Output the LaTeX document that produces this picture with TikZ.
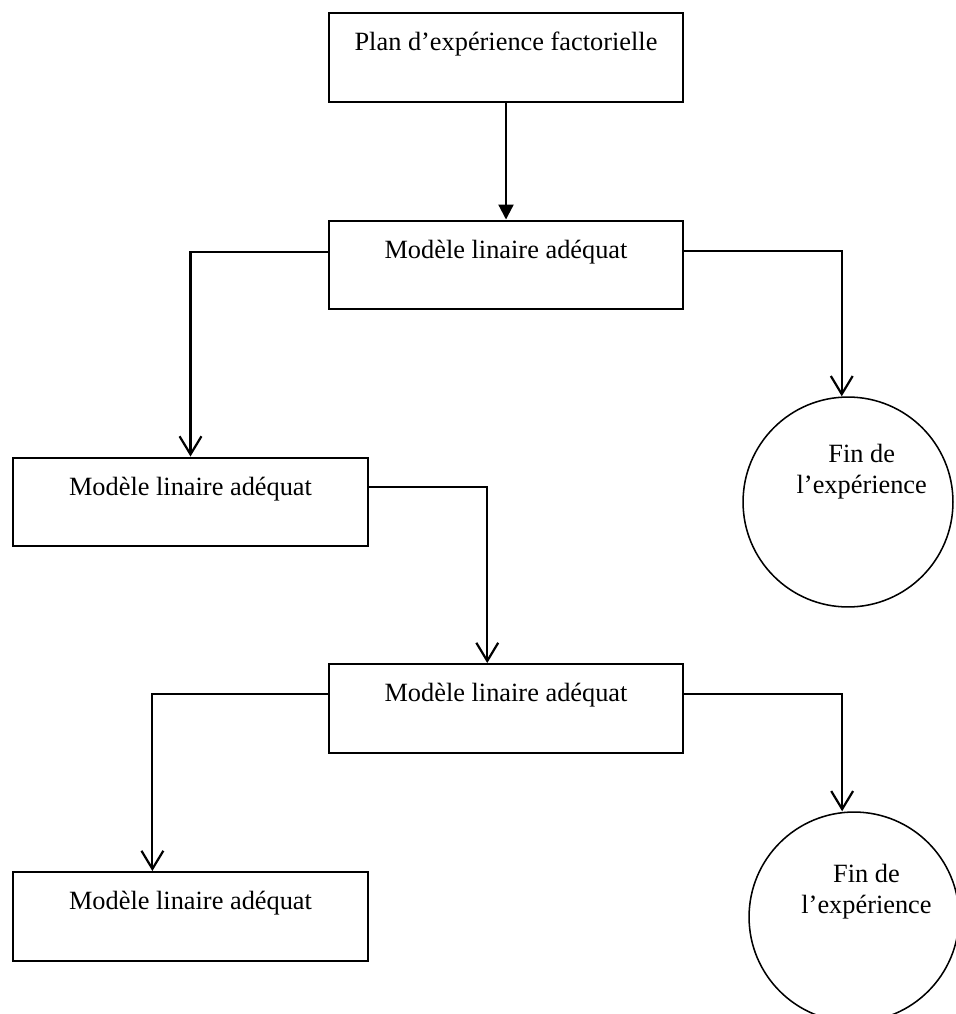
\documentclass[tikz,border=0pt]{standalone}
\usepackage{fontspec}
\setmainfont{Liberation Serif}
\usepackage{tikz}
\usetikzlibrary{calc}
\usetikzlibrary{arrows.meta}
\usetikzlibrary{shapes}
\usetikzlibrary{positioning}

\tikzset{
  boite/.style={rectangle, draw=black, line width=0.9pt, minimum width=5.68cm,
    inner xsep=0pt, inner ysep=0pt, text height=0.6cm, text depth=0.824cm,
    font=\fontsize{12}{14}\selectfont},
  fin/.style={circle, draw=black, line width=0.7pt, minimum size=3.36cm, inner sep=0pt},
  txt/.style={align=center, inner sep=0pt, font=\fontsize{12}{14}\selectfont},
  fleche/.style={line width=1pt, -{Straight Barb[length=0.29cm, width=0.35cm]}},
  plein/.style={line width=1pt, -{Triangle[length=0.24cm, width=0.24cm]}}
}

\begin{document}
\begin{tikzpicture}[x=0.016cm, y=-0.016cm]
\useasboundingbox (0, 0) rectangle (955, 1014);
\node [boite] (plan) at (506, 57.5) {Plan d’expérience factorielle};
\node [boite] (M1) at (506, 265) {Modèle linaire adéquat};
\node [boite] (M2) at (190.5, 502) {Modèle linaire adéquat};
\node [boite] (M3) at (506, 708.5) {Modèle linaire adéquat};
\node [boite] (M4) at (190.5, 916.5) {Modèle linaire adéquat};
\node [fin] (F1) at (848, 502) {};
\node [fin] (F2) at (854, 917) {};
\node [txt] (T1) at ([xshift=0.22cm, yshift=0.48cm]F1.center) {Fin de\\l’expérience};
\node [txt] (T2) at ([xshift=0.2cm, yshift=0.4cm]F2.center) {Fin de\\l’expérience};
\draw [plein] (plan) to (M1);
\draw [fleche] ([yshift=0.21cm]M1.west) -| (M2.north);
\draw [fleche] ([yshift=0.22cm]M1.east) -| ([xshift=-0.1cm]F1.north);
\draw [fleche] ([yshift=0.24cm]M2.east) -| ([xshift=-0.3cm]M3.north);
\draw [fleche] ([yshift=0.23cm]M3.west) -| ([xshift=-0.61cm]M4.north);
\draw [fleche] ([yshift=0.23cm]M3.east) -| ([xshift=-0.19cm]F2.north);
\end{tikzpicture}
\end{document}
